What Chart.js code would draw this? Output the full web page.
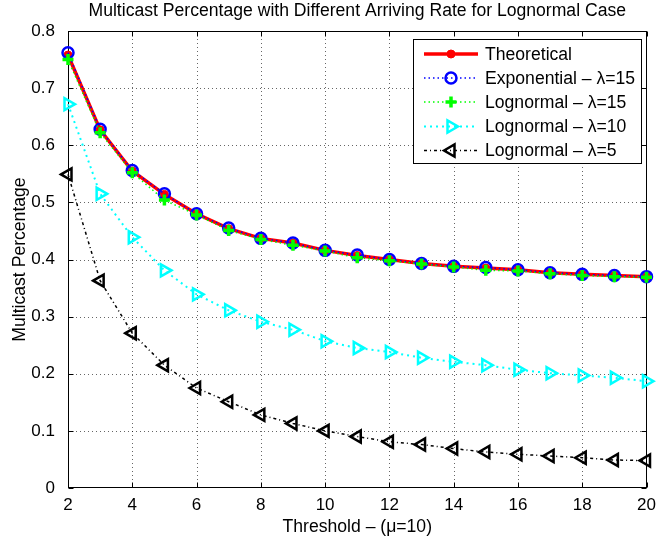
<!DOCTYPE html>
<html><head><meta charset="utf-8">
<script src="https://cdn.jsdelivr.net/npm/chart.js@4.4.0/dist/chart.umd.min.js"></script>
<style>html,body{margin:0;padding:0;background:#fff}#wrap{width:656px;height:541px}</style>
</head><body><div id="wrap"><canvas id="c" width="656" height="541"></canvas></div>
<script>
// ---- data ----
const thresholds = [2,3,4,5,6,7,8,9,10,11,12,13,14,15,16,17,18,19,20];
const theoretical = [0.758,0.627,0.555,0.514,0.480,0.454,0.437,0.429,0.416,0.407,0.400,0.393,0.388,0.385,0.382,0.377,0.374,0.372,0.370];
const exponential15 = [0.762,0.628,0.556,0.515,0.480,0.455,0.437,0.429,0.416,0.408,0.400,0.393,0.388,0.386,0.382,0.377,0.374,0.372,0.370];
const lognormal15 = [0.750,0.622,0.552,0.504,0.478,0.451,0.435,0.425,0.415,0.403,0.398,0.392,0.387,0.381,0.380,0.375,0.372,0.370,0.369];
const lognormal10 = [0.672,0.515,0.439,0.381,0.339,0.311,0.291,0.277,0.257,0.245,0.238,0.228,0.221,0.215,0.207,0.201,0.197,0.193,0.187];
const lognormal5 = [0.549,0.363,0.271,0.215,0.175,0.151,0.128,0.113,0.100,0.090,0.081,0.076,0.069,0.063,0.059,0.056,0.053,0.049,0.048];
const seriesNames = ['Theoretical','Exponential \u2013 \u03bb=15','Lognormal \u2013 \u03bb=15','Lognormal \u2013 \u03bb=10','Lognormal \u2013 \u03bb=5'];
const xTickValues = [2,4,6,8,10,12,14,16,18,20];
const xTickLabels = ['2','4','6','8','10','12','14','16','18','20'];
const yTickValues = [0,0.1,0.2,0.3,0.4,0.5,0.6,0.7,0.8];
const yTickLabels = ['0','0.1','0.2','0.3','0.4','0.5','0.6','0.7','0.8'];
const titleText = 'Multicast Percentage with Different Arriving Rate for Lognormal Case';
const xTitle = 'Threshold \u2013 (\u03bc=10)';
const yTitle = 'Multicast Percentage';

const FONT = '"Liberation Sans", Arial, Helvetica, sans-serif';
const pts = arr => thresholds.map((t,i)=>({x:t,y:arr[i]}));

const styles = [
  {color:'#ff0000', width:3.5, dash:[], marker:'circle', r:4, bw:1, fill:'#ff0000', rot:0},
  {color:'#0000ff', width:1.5, dash:[1.5,3], marker:'circle', r:5.5, bw:2.5, fill:'rgba(0,0,0,0)', rot:0},
  {color:'#00ff00', width:1.5, dash:[1.5,3], marker:'cross', r:5.5, bw:3.5, fill:'#00ff00', rot:0},
  {color:'#00ffff', width:2, dash:[2,4], marker:'triangle', r:7, bw:2.5, fill:'rgba(0,0,0,0)', rot:90},
  {color:'#000000', width:1.5, dash:[3,3,1,3], marker:'triangle', r:7, bw:2.5, fill:'rgba(0,0,0,0)', rot:-90}
];
const seriesData = [theoretical, exponential15, lognormal15, lognormal10, lognormal5];

const datasets = seriesData.map((arr,i)=>{
  const s = styles[i];
  return {
    label: seriesNames[i], data: pts(arr), order: 10 - i, clip: false,
    borderColor: s.color, borderWidth: s.width, borderDash: s.dash, tension: 0, fill: false,
    pointStyle: s.marker, pointRadius: s.r, pointHoverRadius: s.r, pointBorderWidth: s.bw,
    pointBorderColor: s.color, pointBackgroundColor: s.fill, pointRotation: s.rot
  };
});

function drawMarker(ctx, s, x, y){
  ctx.save();
  ctx.setLineDash([]);
  ctx.strokeStyle = s.color; ctx.fillStyle = s.fill; ctx.lineWidth = s.bw;
  ctx.beginPath();
  if (s.marker === 'circle') {
    ctx.arc(x, y, s.r, 0, Math.PI*2); ctx.closePath(); ctx.fill(); ctx.stroke();
  } else if (s.marker === 'cross') {
    ctx.moveTo(x - s.r, y); ctx.lineTo(x + s.r, y); ctx.moveTo(x, y - s.r); ctx.lineTo(x, y + s.r); ctx.stroke();
  } else {
    let rad = s.rot * Math.PI / 180;
    for (let k=0;k<3;k++){
      const px = x + Math.sin(rad)*s.r, py = y - Math.cos(rad)*s.r;
      if (k===0) ctx.moveTo(px,py); else ctx.lineTo(px,py);
      rad += 2*Math.PI/3;
    }
    ctx.closePath(); ctx.stroke();
  }
  ctx.restore();
}

const framePlugin = {
  id: 'frame',
  beforeDatasetsDraw(chart){
    const {ctx, chartArea:a, scales:{x, y}} = chart;
    ctx.save();
    ctx.strokeStyle = 'rgba(0,0,0,0.6)'; ctx.lineWidth = 1; ctx.setLineDash([1,3]);
    xTickValues.forEach(v=>{
      const px = Math.round(x.getPixelForValue(v)) + 0.5;
      if (px > a.left + 1 && px < a.right - 1){ ctx.beginPath(); ctx.moveTo(px, a.bottom); ctx.lineTo(px, a.top); ctx.stroke(); }
    });
    yTickValues.forEach(v=>{
      const py = Math.round(y.getPixelForValue(v)) + 0.5;
      if (py > a.top + 1 && py < a.bottom - 1){ ctx.beginPath(); ctx.moveTo(a.left, py); ctx.lineTo(a.right, py); ctx.stroke(); }
    });
    ctx.setLineDash([]); ctx.strokeStyle = '#000'; ctx.lineWidth = 1;
    const L = Math.round(a.left)+0.5, R = Math.round(a.right)-0.5, T = Math.round(a.top)+0.5, B = Math.round(a.bottom)-0.5;
    ctx.strokeRect(L, T, R-L, B-T);
    const tl = 5;
    xTickValues.forEach(v=>{
      const px = Math.round(x.getPixelForValue(v)) + 0.5;
      ctx.beginPath(); ctx.moveTo(px, B); ctx.lineTo(px, B - tl); ctx.moveTo(px, T); ctx.lineTo(px, T + tl); ctx.stroke();
    });
    yTickValues.forEach(v=>{
      const py = Math.round(y.getPixelForValue(v)) + 0.5;
      ctx.beginPath(); ctx.moveTo(L, py); ctx.lineTo(L + tl, py); ctx.moveTo(R, py); ctx.lineTo(R - tl, py); ctx.stroke();
    });
    ctx.restore();
  },
  afterDatasetsDraw(chart){
    const ctx = chart.ctx;
    ctx.save();
    const bx = 413, by = 39, bw = 228, bh = 124;
    ctx.fillStyle = '#fff'; ctx.fillRect(bx, by, bw, bh);
    ctx.strokeStyle = '#000'; ctx.lineWidth = 1; ctx.strokeRect(bx + 0.5, by + 0.5, bw, bh);
    const rows = [54, 78, 102, 126.5, 150.5];
    chart.data.datasets.forEach((ds, i)=>{
      const s = styles[i], yy = rows[i];
      ctx.save();
      ctx.strokeStyle = s.color; ctx.lineWidth = s.width; ctx.setLineDash(s.dash);
      ctx.beginPath(); ctx.moveTo(424, yy); ctx.lineTo(478, yy); ctx.stroke();
      ctx.restore();
      drawMarker(ctx, s, 451, yy);
      ctx.fillStyle = '#000'; ctx.font = '17.6px ' + FONT; ctx.textBaseline = 'middle'; ctx.textAlign = 'left';
      ctx.fillText(ds.label, 485, yy + 1);
    });
    ctx.restore();
  }
};

new Chart(document.getElementById('c'), {
  type: 'line',
  data: { datasets },
  options: {
    responsive: false, animation: false, devicePixelRatio: 1,
    layout: { padding: { left: 0, right: 7, top: 0, bottom: 0 } },
    plugins: {
      legend: { display: false }, tooltip: { enabled: false },
      title: { display: true, text: titleText, fullSize: false, color: '#000',
        font: { size: 17.6, family: FONT, weight: 'normal' }, padding: { top: 0.5, bottom: 9.4 } }
    },
    scales: {
      x: {
        type: 'linear', min: 2, max: 20,
        afterBuildTicks: s => { s.ticks = xTickValues.map(v=>({value:v})); },
        afterFit: s => { s.height = 53; s.paddingLeft = 0; s.paddingRight = 0; },
        ticks: { color: '#000', font: { size: 17, family: FONT }, padding: -1, maxRotation: 0, autoSkip: false,
          callback: (v) => xTickLabels[xTickValues.indexOf(v)] },
        grid: { display: false }, border: { display: false },
        title: { display: true, text: xTitle, color: '#000', font: { size: 17.6, family: FONT }, padding: { top: 0, bottom: 3.5 } }
      },
      y: {
        type: 'linear', min: 0, max: 0.8,
        afterBuildTicks: s => { s.ticks = yTickValues.map(v=>({value:v})); },
        afterFit: s => { s.width = 68; s.paddingTop = 0; s.paddingBottom = 0; },
        ticks: { color: '#000', font: { size: 17, family: FONT }, padding: 5, autoSkip: false,
          callback: (v) => { const k = yTickValues.findIndex(t => Math.abs(t - v) < 1e-9); return k >= 0 ? yTickLabels[k] : ''; } },
        grid: { display: false }, border: { display: false },
        title: { display: true, text: yTitle, color: '#000', font: { size: 17.6, family: FONT }, padding: { top: 9.5, bottom: 0 } }
      }
    }
  },
  plugins: [framePlugin]
});
</script>
</body></html>
